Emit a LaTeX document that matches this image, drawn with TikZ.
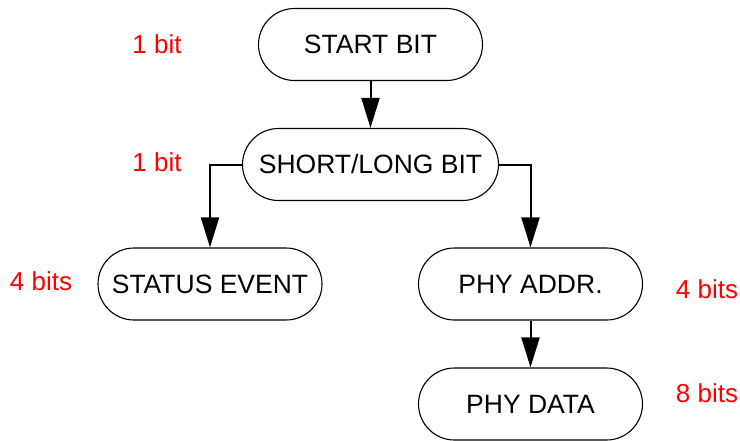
\documentclass[tikz,border=0pt]{standalone}
\usepackage{fontspec}
\setmainfont{Liberation Sans}
\usetikzlibrary{arrows.meta}
\begin{document}
\begin{tikzpicture}[x=1pt,y=-1pt,
  blk/.style={draw=black,line width=1.1pt,rounded corners=36pt,minimum width=224pt,minimum height=72pt,inner sep=0pt,font=\fontsize{26.5}{30}\selectfont},
  lbl/.style={text=red,font=\fontsize{26}{30}\selectfont,inner sep=0pt},
  conn/.style={line width=2pt,-{Triangle[width=18pt,length=30pt]}}]
\useasboundingbox (0,0) rectangle (740,440);
\node[blk] (start) at (370.5,44.5) {START BIT};
\node[blk,minimum width=256pt] (sl) at (370.5,164.5) {SHORT/LONG BIT};
\node[blk] (status) at (210,284) {STATUS EVENT};
\node[blk] (addr) at (530.5,284) {PHY ADDR.};
\node[blk] (data) at (530.5,404) {PHY DATA};
\node[lbl] (l1) at (157,44) {1 bit};
\node[lbl] (l2) at (157,162) {1 bit};
\node[lbl] (l3) at (41,281) {4 bits};
\node[lbl] (l4) at (707,289) {4 bits};
\node[lbl] (l5) at (707,393) {8 bits};
\draw[conn] (start.south) -- (sl.north);
\draw[conn] (sl.west) -| (status.north);
\draw[conn] (sl.east) -| (addr.north);
\draw[conn] (addr.south) -- (data.north);
\end{tikzpicture}
\end{document}
